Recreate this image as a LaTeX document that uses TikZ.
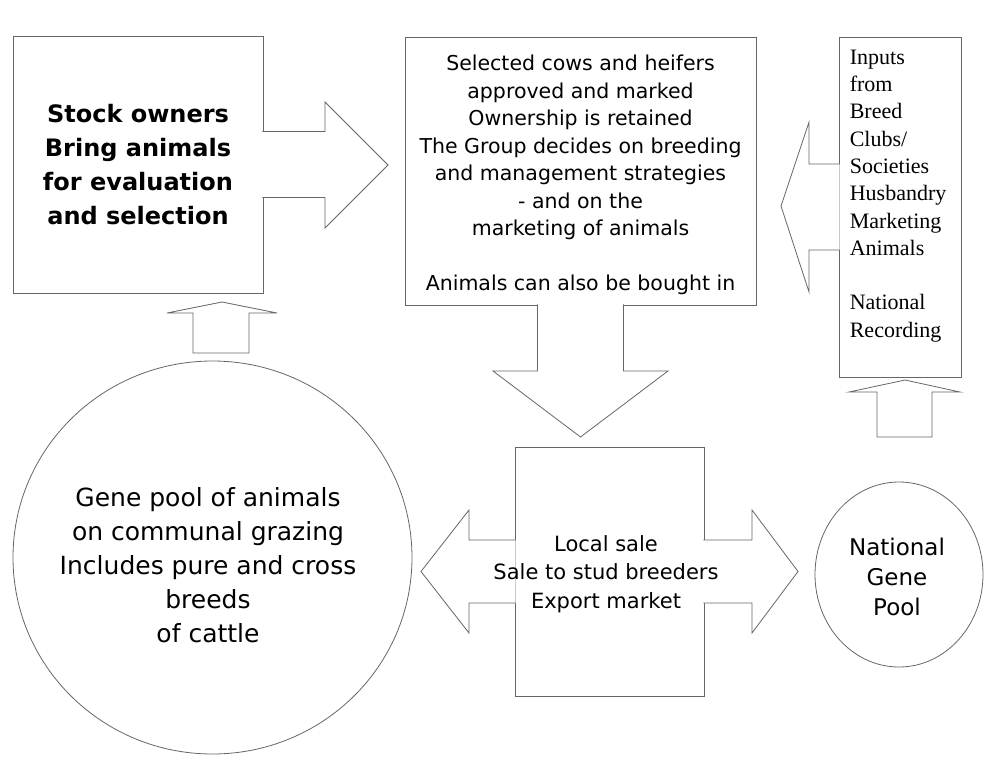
\documentclass[tikz,border=0pt]{standalone}
\usepackage{fontspec}
\setmainfont{DejaVu Sans}
\newfontfamily\timesfont{Liberation Serif}
\usetikzlibrary{positioning,calc,shapes.geometric}

\begin{document}
\begin{tikzpicture}[x=1pt,y=-1pt]
   \tikzset{box/.style = {rectangle, draw=black!60, line width=0.8pt, inner sep=0pt, align=center}, }
   \tikzset{pool/.style = {ellipse, draw=black!60, line width=0.8pt, inner sep=0pt}, }
   \tikzset{label/.style = {inner sep=0pt, align=center}, }
   \tikzset{blockarrow/.style = {draw=black!60, line width=0.8pt, fill=white, line join=miter}, }
   \useasboundingbox (0,0) rectangle (993,771);

   % boxes and pools
   \node[box, minimum width=250pt, minimum height=257pt, font=\fontsize{24}{34}\selectfont\bfseries] (stock) at (138,164.5)
   {Stock owners\\Bring animals\\for evaluation\\and selection};
   \node[box, minimum width=351pt, minimum height=268pt] (select) at (580.5,171) {};
   \node[label, font=\fontsize{20.5}{27.5}\selectfont] (selecttext) at (580.5,175)
   {Selected cows and heifers\\approved and marked\\Ownership is retained\\The Group decides on breeding\\and management strategies\\- and on the\\marketing of animals\\[27.5pt]Animals can also be bought in};
   \node[box, minimum width=122pt, minimum height=340pt] (inputs) at (900,207) {};
   \node[label, align=left, font=\timesfont\fontsize{22}{27.3}\selectfont, below right=13pt and 11pt of inputs.north west] (inputstext)
   {Inputs\\from\\Breed\\Clubs/\\Societies\\Husbandry\\Marketing\\Animals\\[27.3pt]National\\Recording};
   \node[pool, minimum width=399pt, minimum height=393pt] (gene) at (212.5,557.5) {};
   \node[label, font=\fontsize{25}{34}\selectfont] (genetext) at (208,565)
   {Gene pool of animals\\on communal grazing\\Includes pure and cross\\breeds\\of cattle};
   \node[box, minimum width=189pt, minimum height=249pt] (sale) at (609.5,571.5) {};
   \node[pool, minimum width=168pt, minimum height=185pt] (natpool) at (899,574.5) {};
   \node[label, font=\fontsize{23}{30}\selectfont] (nattext) at (897,577)
   {National\\Gene\\Pool};

   % arrow tips
   \coordinate (tipselect) at (388,165);
   \coordinate (tipsale) at (580.5,437);
   \coordinate (tipinputs) at (781,206);
   \coordinate (tipgene) at (421,571.5);
   \coordinate (tipnat) at (798,571.5);
   \coordinate (tipstock) at (222,302);
   \coordinate (tipbox) at (905,380);

   % block arrows
   \draw[blockarrow] ($(stock.east)+(-1,-33)$) -| (325,102) -- (tipselect) -- (325,228) |- ($(stock.east)+(-1,33)$);
   \draw[blockarrow] ($(select.south)+(-43,-1)$) |- (493,371) -- (tipsale) -- (668,371) -| ($(select.south)+(43,-1)$);
   \draw[blockarrow] ($(inputs.west)+(1,-43)$) -| (809,122) -- (tipinputs) -- (809,292) |- ($(inputs.west)+(1,43)$);
   \draw[blockarrow] ($(sale.west)+(1,-31.5)$) -| (469,510) -- (tipgene) -- (469,633) |- ($(sale.west)+(1,31.5)$);
   \draw[blockarrow] ($(sale.east)+(-1,-31.5)$) -| (752,510) -- (tipnat) -- (752,633) |- ($(sale.east)+(-1,31.5)$);
   \draw[blockarrow] (193,353) |- (167,313) -- (tipstock) -- (277,313) -| (249,353) -- cycle;
   \draw[blockarrow] (877,437) |- (849,392) -- (tipbox) -- (960,392) -| (932,437) -- cycle;

   % sale text runs over the arrow shafts
   \node[label, font=\fontsize{21}{28.5}\selectfont] (saletext) at (606,574)
   {Local sale\\Sale to stud breeders\\Export market};
\end{tikzpicture}
\end{document}
